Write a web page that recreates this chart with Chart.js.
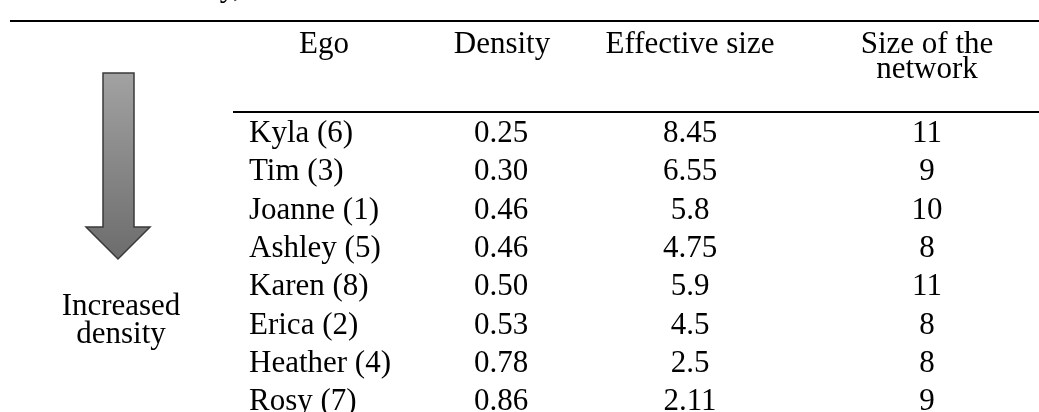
<!DOCTYPE html>
<html>
<head>
<meta charset="utf-8">
<script src="https://cdn.jsdelivr.net/npm/chart.js@4/dist/chart.umd.min.js"></script>
<style>
  html, body { margin: 0; padding: 0; background: #fff; }
  #wrap { width: 1039px; height: 412px; position: relative; }
</style>
</head>
<body>
<div id="wrap"><canvas id="chart" width="1039" height="412"></canvas></div>
<script>
// table data
const egos = ["Kyla (6)", "Tim (3)", "Joanne (1)", "Ashley (5)", "Karen (8)", "Erica (2)", "Heather (4)", "Rosy (7)"];
const density = [0.25, 0.30, 0.46, 0.46, 0.50, 0.53, 0.78, 0.86];
const effectiveSize = ["8.45", "6.55", "5.8", "4.75", "5.9", "4.5", "2.5", "2.11"];
const networkSize = [11, 9, 10, 8, 11, 8, 8, 9];
const headers = [["Ego"], ["Density"], ["Effective size"], ["Size of the", "network"]];
const arrowLabel = ["Increased", "density"];

// layout (pixels)
const FONT = '31px "Liberation Serif", "Times New Roman", serif';
const COL_X = [249, 501, 690, 927];
const HEAD_X = [324, 502, 690, 927];
const HEAD_Y = [43, 68];
const TOP_RULE = { y: 21, x0: 10 };
const MID_RULE = { y: 112, x0: 233 };

const cellText = (row, col) => {
  if (col === 0) return egos[row];
  if (col === 1) return density[row].toFixed(2);
  if (col === 2) return effectiveSize[row];
  return String(networkSize[row]);
};

const tablePlugin = {
  id: "tablePlugin",
  afterDraw(chart) {
    const { ctx, scales, width } = chart;
    const x = scales.x;
    const y = scales.y;

    ctx.save();
    ctx.fillStyle = "#000";
    ctx.font = FONT;

    // caption above, cut off by the top edge
    ctx.textAlign = "right";
    ctx.textBaseline = "alphabetic";
    ctx.fillText("density,", x.getPixelForValue(241), -4);

    // rules
    ctx.strokeStyle = "#000";
    ctx.lineWidth = 2;
    ctx.beginPath();
    ctx.moveTo(x.getPixelForValue(TOP_RULE.x0), TOP_RULE.y);
    ctx.lineTo(width, TOP_RULE.y);
    ctx.moveTo(x.getPixelForValue(MID_RULE.x0), MID_RULE.y);
    ctx.lineTo(width, MID_RULE.y);
    ctx.stroke();

    // headers
    ctx.textAlign = "center";
    ctx.textBaseline = "middle";
    headers.forEach((lines, c) => {
      lines.forEach((line, k) => {
        ctx.fillText(line, x.getPixelForValue(HEAD_X[c]), HEAD_Y[k] + 2);
      });
    });

    // cells
    egos.forEach((ego, r) => {
      const py = y.getPixelForValue(r) + 2;
      for (let c = 0; c < 4; c++) {
        ctx.textAlign = c === 0 ? "left" : "center";
        ctx.fillText(cellText(r, c), x.getPixelForValue(COL_X[c]), py);
      }
    });

    // arrow
    const grad = ctx.createLinearGradient(0, 73, 0, 260);
    grad.addColorStop(0, "#a2a2a2");
    grad.addColorStop(1, "#6c6c6c");
    ctx.beginPath();
    ctx.moveTo(103, 73);
    ctx.lineTo(134, 73);
    ctx.lineTo(134, 227);
    ctx.lineTo(150, 227);
    ctx.lineTo(118, 259);
    ctx.lineTo(86, 227);
    ctx.lineTo(103, 227);
    ctx.closePath();
    ctx.fillStyle = grad;
    ctx.fill();
    ctx.strokeStyle = "#3a3a3a";
    ctx.lineWidth = 1.5;
    ctx.stroke();

    ctx.fillStyle = "#000";
    ctx.textAlign = "center";
    ctx.fillText(arrowLabel[0], 121, 307);
    ctx.fillText(arrowLabel[1], 121, 335);

    ctx.restore();
  }
};

new Chart(document.getElementById("chart"), {
  type: "scatter",
  data: { datasets: [{ data: [], pointRadius: 0 }] },
  options: {
    responsive: false,
    animation: false,
    devicePixelRatio: 1,
    layout: { padding: { top: 132, bottom: 12, left: 0, right: 0 } },
    plugins: { legend: { display: false }, tooltip: { enabled: false } },
    scales: {
      x: { type: "linear", min: 0, max: 1039, display: false },
      y: { type: "category", labels: egos, offset: false, display: false }
    }
  },
  plugins: [tablePlugin]
});
</script>
</body>
</html>
